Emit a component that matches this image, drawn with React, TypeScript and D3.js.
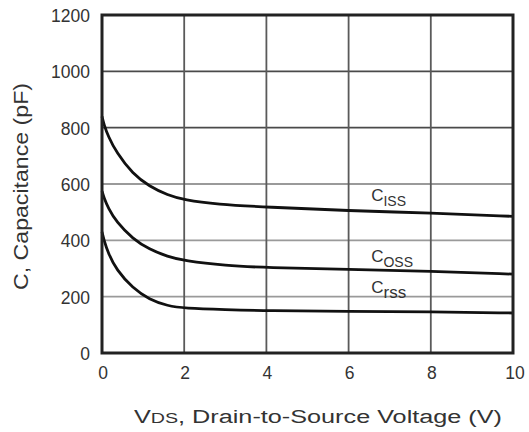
import React from "react";
import * as d3 from "d3";

// Drain-to-source voltage samples (V)
const vdsCiss = [0, 0.05, 0.15, 0.35, 0.75, 1.15, 1.6, 2, 2.8, 4, 6, 8, 10];
const ciss = [840, 810, 770, 712, 635, 592, 560, 543, 528, 518, 505, 497, 485];

const vdsCoss = [0, 0.05, 0.15, 0.35, 0.75, 1.15, 1.6, 2, 3, 4, 6, 8, 10];
const coss = [575, 550, 515, 465, 405, 368, 342, 327, 310, 303, 297, 290, 280];

const vdsCrss = [0, 0.05, 0.15, 0.35, 0.75, 1.15, 1.6, 2, 3, 4, 6, 8, 10];
const crss = [430, 400, 355, 295, 230, 190, 167, 159, 154, 150, 148, 146, 142];

const xTicks = [0, 2, 4, 6, 8, 10];
const yTicks = [0, 200, 400, 600, 800, 1000, 1200];

const seriesNames = ["ISS", "OSS", "rss"];

const W = 529;
const H = 432;
const left = 102;
const right = 513;
const top = 15;
const bottom = 353;

export default function App() {
  const x = d3.scaleLinear().domain([0, 10]).range([left, right]);
  const y = d3.scaleLinear().domain([0, 1200]).range([bottom, top]);

  const line = d3
    .line<[number, number]>()
    .x((d) => x(d[0]))
    .y((d) => y(d[1]))
    .curve(d3.curveBasis);

  const series = [
    { v: vdsCiss, c: ciss },
    { v: vdsCoss, c: coss },
    { v: vdsCrss, c: crss },
  ];

  // label anchors (voltage, capacitance) for the curve names
  const labelAt: [number, number][] = [
    [6.55, 540],
    [6.55, 323],
    [6.55, 212],
  ];

  const font = "'Liberation Sans', Arial, Helvetica, sans-serif";

  return (
    <svg
      width={W}
      height={H}
      style={{ position: "absolute", left: 0, top: 0, background: "#fff" }}
      fontFamily={font}
    >
      {/* grid */}
      {yTicks
        .filter((t) => t !== 0 && t !== 1200)
        .map((t) => (
          <line
            key={"h" + t}
            x1={left}
            x2={right}
            y1={y(t)}
            y2={y(t)}
            stroke={t >= 800 ? "#4a4a4a" : "#9a9a9a"}
            strokeWidth={1.8}
          />
        ))}
      {xTicks
        .filter((t) => t !== 0 && t !== 10)
        .map((t) => (
          <line
            key={"v" + t}
            x1={x(t)}
            x2={x(t)}
            y1={top}
            y2={bottom}
            stroke="#5a5a5a"
            strokeWidth={1.8}
          />
        ))}

      {/* curves */}
      {series.map((s, i) => (
        <path
          key={i}
          d={line(s.v.map((v, j) => [v, s.c[j]] as [number, number])) || ""}
          fill="none"
          stroke="#111"
          strokeWidth={2.8}
        />
      ))}

      {/* frame */}
      <rect
        x={left}
        y={top}
        width={right - left}
        height={bottom - top}
        fill="none"
        stroke="#222"
        strokeWidth={3}
      />

      {/* y tick labels */}
      {yTicks.map((t) => (
        <text
          key={"yt" + t}
          x={90}
          y={y(t) + 1}
          textAnchor="end"
          dominantBaseline="central"
          fontSize={17.5}
          fill="#333"
        >
          {t}
        </text>
      ))}

      {/* x tick labels */}
      {xTicks.map((t) => (
        <text
          key={"xt" + t}
          x={x(t) + (t === 10 ? 2 : 1)}
          y={373}
          textAnchor="middle"
          dominantBaseline="central"
          fontSize={17.5}
          fill="#333"
        >
          {t}
        </text>
      ))}

      {/* curve names */}
      {labelAt.map((p, i) => (
        <text
          key={"lb" + i}
          x={x(p[0])}
          y={y(p[1])}
          fill="#333"
          fontSize={17}
        >
          C
          <tspan dy={5} fontSize={i === 2 ? 17 : 14}>
            {seriesNames[i]}
          </tspan>
        </text>
      ))}

      {/* axis titles */}
      <text
        x={134}
        y={423}
        fontSize={18}
        fill="#333"
        textLength={368}
        lengthAdjust="spacingAndGlyphs"
      >
        V<tspan fontSize={14}>DS</tspan>, Drain-to-Source Voltage (V)
      </text>
      <text
        transform={`translate(28,${186.5}) rotate(-90)`}
        textAnchor="middle"
        fontSize={21}
        fill="#333"
        textLength={207}
        lengthAdjust="spacingAndGlyphs"
      >
        C, Capacitance (pF)
      </text>
    </svg>
  );
}
